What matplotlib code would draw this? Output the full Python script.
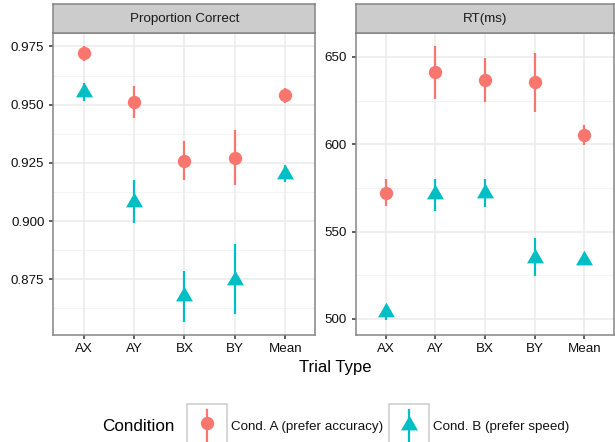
import numpy as np
import matplotlib
matplotlib.use("Agg")
import matplotlib.pyplot as plt
from matplotlib.patches import Rectangle
from matplotlib.lines import Line2D

plt.rcParams['font.family'] = ['Liberation Sans', 'DejaVu Sans']

categories = ['AX', 'AY', 'BX', 'BY', 'Mean']
acc_A = [0.972, 0.951, 0.926, 0.927, 0.954]
acc_A_lo = [0.9686, 0.9442, 0.9176, 0.9153, 0.9507]
acc_A_hi = [0.9750, 0.9581, 0.9343, 0.9392, 0.9570]
acc_B = [0.9555, 0.9083, 0.8677, 0.8746, 0.9203]
acc_B_lo = [0.9514, 0.8991, 0.8568, 0.8600, 0.9170]
acc_B_hi = [0.9593, 0.9176, 0.8787, 0.8902, 0.9240]
rt_A = [571.9, 641.4, 636.8, 635.7, 605.3]
rt_A_lo = [564.4, 626.2, 624.2, 618.5, 599.6]
rt_A_hi = [580.4, 656.5, 649.6, 652.5, 611.0]
rt_B = [504.1, 571.4, 571.9, 534.7, 533.9]
rt_B_lo = [499.2, 562.0, 564.0, 524.6, 531.0]
rt_B_hi = [508.0, 580.0, 580.0, 546.1, 537.0]

panel_titles = ['Proportion Correct', 'RT(ms)']
acc_ticks = [0.875, 0.900, 0.925, 0.950, 0.975]
acc_minor = [0.8625, 0.8875, 0.9125, 0.9375, 0.9625]
rt_ticks = [500, 550, 600, 650]
rt_minor = [525, 575, 625]
legend_title = 'Condition'
legend_labels = ['Cond. A (prefer accuracy)', 'Cond. B (prefer speed)']

RED = '#F8766D'
CYAN = '#00BFC4'
BORDER = '#858585'
GRID = '#ebebeb'
GRID_MINOR = '#f4f4f4'

W, H = 615, 442
fig = plt.figure(figsize=(W / 100, H / 100), dpi=100)


def box(x0, y0, x1, y1):
    # pixel coords (top-left origin) -> figure fraction rect
    return [x0 / W, 1 - y1 / H, (x1 - x0) / W, (y1 - y0) / H]


tri = [(-1, -0.577), (1, -0.577), (0, 1.155)]

panels = [
    dict(x0=53.3, x1=315.5, ylim=(0.8511, 0.9809), ticks=acc_ticks, minor=acc_minor,
         fmt='{:.3f}', A=(acc_A, acc_A_lo, acc_A_hi), B=(acc_B, acc_B_lo, acc_B_hi)),
    dict(x0=355.7, x1=614.3, ylim=(490.8, 663.9), ticks=rt_ticks, minor=rt_minor,
         fmt='{:d}', A=(rt_A, rt_A_lo, rt_A_hi), B=(rt_B, rt_B_lo, rt_B_hi)),
]

x = np.arange(len(categories))
for p, title in zip(panels, panel_titles):
    ax = fig.add_axes(box(p['x0'], 32.7, p['x1'], 335))
    ax.set_xlim(-0.6, len(categories) - 0.4)
    ax.set_ylim(*p['ylim'])
    for m in p['minor']:
        ax.axhline(m, color=GRID_MINOR, lw=0.7, zorder=0)
    for t in p['ticks']:
        ax.axhline(t, color=GRID, lw=1.1, zorder=0)
    for xi in x:
        ax.axvline(xi, color=GRID, lw=1.1, zorder=0)
    ax.set_xticks(x)
    ax.set_xticklabels(categories)
    ax.set_yticks(p['ticks'])
    ax.set_yticklabels([p['fmt'].format(t) for t in p['ticks']])
    ax.tick_params(axis='both', length=3.2, width=1.1, color='#333333',
                   labelsize=9.6, labelcolor='#111111')
    ax.tick_params(axis='y', pad=3.2)
    ax.tick_params(axis='x', pad=2.2)
    for s in ax.spines.values():
        s.set_color(BORDER)
        s.set_linewidth(1.1)
    ym, ylo, yhi = p['A']
    ax.vlines(x, ylo, yhi, color=RED, lw=1.6, zorder=3)
    ax.plot(x, ym, 'o', color=RED, ms=9.6, mew=0, zorder=4)
    ym, ylo, yhi = p['B']
    ax.vlines(x, ylo, yhi, color=CYAN, lw=1.6, zorder=3)
    ax.plot(x, ym, marker=tri, ls='none', color=CYAN, ms=14.1, mew=0, zorder=4)

    sax = fig.add_axes(box(p['x0'], 4.3, p['x1'], 32.7))
    sax.set_facecolor('#cccccc')
    sax.set_xticks([])
    sax.set_yticks([])
    for s in sax.spines.values():
        s.set_color(BORDER)
        s.set_linewidth(1.1)
    sax.text(0.5, 0.47, title, ha='center', va='center', fontsize=9.6,
             color='#1a1a1a', transform=sax.transAxes)

fig.text(335.5 / W, 1 - 372 / H, 'Trial Type', ha='center', va='baseline',
         fontsize=12, color='black')

# legend
fig.text(102 / W, 1 - 430.7 / H, legend_title, ha='left', va='baseline',
         fontsize=12.3, color='black')
key_x = [186.7, 389.0]
label_x = [231.0, 433.0]
for i, (kx, lx, lab) in enumerate(zip(key_x, label_x, legend_labels)):
    r = Rectangle((kx / W, 1 - 444 / H), 40 / W, (444 - 404.3) / H,
                  transform=fig.transFigure, facecolor='white',
                  edgecolor='#cccccc', lw=1.1)
    fig.add_artist(r)
    cx = (kx + 20) / W
    col = RED if i == 0 else CYAN
    fig.add_artist(Line2D([cx, cx], [1 - 409.5 / H, 1 - 442 / H], color=col, lw=1.6,
                          transform=fig.transFigure))
    if i == 0:
        fig.add_artist(Line2D([cx], [1 - 423.3 / H], marker='o', color=col, ms=9.6,
                              mew=0, transform=fig.transFigure))
    else:
        fig.add_artist(Line2D([cx], [1 - 424.8 / H], marker=tri, color=col, ms=14.1,
                              mew=0, transform=fig.transFigure))
    fig.text(lx / W, 1 - 430 / H, lab, ha='left', va='baseline', fontsize=9.6,
             color='#111111')

fig.savefig('out.png', dpi=100)
